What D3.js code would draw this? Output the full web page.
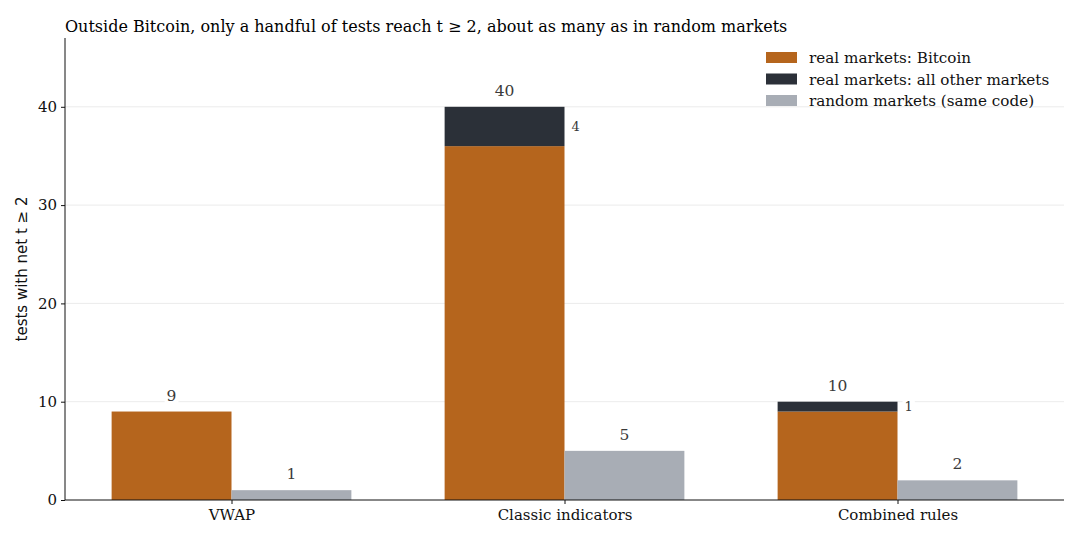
<!DOCTYPE html>
<html>
<head>
<meta charset="utf-8">
<script src="https://cdn.jsdelivr.net/npm/d3@7"></script>
<style>
body { margin: 0; background: #fff; }
text { font-family: "DejaVu Serif", serif; }
</style>
</head>
<body>
<script>
var categories = ["VWAP", "Classic indicators", "Combined rules"];
var bitcoin = [9, 36, 9];
var otherMarkets = [0, 4, 1];
var randomMarkets = [1, 5, 2];
var yTicks = [0, 10, 20, 30, 40];
var legendLabels = ["real markets: Bitcoin", "real markets: all other markets", "random markets (same code)"];

var w = 1080, h = 540;
var m = { left: 65, right: 16, top: 38, bottom: 40 };
var colors = ["#b5651d", "#2b3038", "#a8adb5"];

var svg = d3.select("body").append("svg")
    .attr("width", w)
    .attr("height", h);

// x: positions 0..2, limits -0.5..2.5 like a numeric bar axis
var x = d3.scaleLinear().domain([-0.5, 2.5]).range([m.left, w - m.right]);
var y = d3.scaleLinear().domain([0, 47]).range([h - m.bottom, m.top]);
var bw = 0.36;

// gridlines
svg.append("g").selectAll("line")
    .data(yTicks.slice(1))
    .enter().append("line")
    .attr("x1", m.left).attr("x2", w - m.right)
    .attr("y1", d => y(d)).attr("y2", d => y(d))
    .attr("stroke", "#e6e6e6").attr("stroke-width", 0.8);

var idx = d3.range(categories.length);

// bitcoin bars
svg.append("g").selectAll("rect")
    .data(idx).enter().append("rect")
    .attr("x", i => x(i - bw)).attr("width", i => x(i) - x(i - bw))
    .attr("y", i => y(bitcoin[i])).attr("height", i => y(0) - y(bitcoin[i]))
    .attr("fill", colors[0]);

// other markets stacked on top
svg.append("g").selectAll("rect")
    .data(idx).enter().append("rect")
    .attr("x", i => x(i - bw)).attr("width", i => x(i) - x(i - bw))
    .attr("y", i => y(bitcoin[i] + otherMarkets[i]))
    .attr("height", i => y(bitcoin[i]) - y(bitcoin[i] + otherMarkets[i]))
    .attr("fill", colors[1]);

// random markets
svg.append("g").selectAll("rect")
    .data(idx).enter().append("rect")
    .attr("x", i => x(i)).attr("width", i => x(i + bw) - x(i))
    .attr("y", i => y(randomMarkets[i])).attr("height", i => y(0) - y(randomMarkets[i]))
    .attr("fill", colors[2]);

// label with white box behind, like a bbox
var label = function(tx, ty, str, size, anchor) {
    var g = svg.append("g");
    var t = g.append("text")
        .attr("x", tx).attr("y", ty)
        .attr("text-anchor", anchor || "middle")
        .attr("dominant-baseline", "central")
        .attr("font-size", size)
        .attr("fill", "#3a3a3a")
        .text(str);
    var b = t.node().getBBox();
    g.insert("rect", "text")
        .attr("x", b.x - 2).attr("y", b.y)
        .attr("width", b.width + 4).attr("height", b.height)
        .attr("fill", "#fff");
};

idx.forEach(function(i) {
    var tot = bitcoin[i] + otherMarkets[i];
    label(x(i - bw / 2), y(tot) - 16, tot, 15.5);
    if (otherMarkets[i] > 0) {
        label(x(i) + 7, y(bitcoin[i] + otherMarkets[i] / 2), otherMarkets[i], 13, "start");
    }
    label(x(i + bw / 2), y(randomMarkets[i]) - 16, randomMarkets[i], 15.5);
});

// axes
var yAxis = svg.append("g")
    .attr("transform", "translate(" + m.left + ",0)")
    .call(d3.axisLeft(y).tickValues(yTicks).tickSize(4).tickPadding(4));
var xAxis = svg.append("g")
    .attr("transform", "translate(0," + y(0) + ")")
    .call(d3.axisBottom(x).tickValues(idx).tickFormat(i => categories[i]).tickSize(4).tickPadding(5));
[yAxis, xAxis].forEach(function(a) {
    a.selectAll("text").attr("font-family", "DejaVu Serif").attr("font-size", 15).attr("fill", "#111");
    a.selectAll("line").attr("stroke", "#111");
});
yAxis.select(".domain").attr("d", "M0," + y(0) + "V" + m.top).attr("stroke", "#111");
xAxis.select(".domain").attr("d", "M" + m.left + ",0H" + (w - m.right)).attr("stroke", "#111");

// y label
svg.append("text")
    .attr("transform", "translate(27," + ((m.top + y(0)) / 2) + ") rotate(-90)")
    .attr("text-anchor", "middle")
    .style("font-family", "DejaVu Sans")
    .attr("font-size", 15)
    .attr("fill", "#111")
    .text("tests with net t \u2265 2");

// title
svg.append("text")
    .attr("x", m.left).attr("y", 31.5)
    .attr("font-size", 16)
    .attr("fill", "#000")
    .text("Outside Bitcoin, only a handful of tests reach t \u2265 2, about as many as in random markets");

// legend
var leg = svg.append("g").attr("transform", "translate(766,52)");
legendLabels.forEach(function(s, k) {
    leg.append("rect").attr("x", 0).attr("y", k * 21.5).attr("width", 31).attr("height", 11).attr("fill", colors[k]);
    leg.append("text").attr("x", 43).attr("y", k * 21.5 + 6)
        .attr("dominant-baseline", "central")
        .attr("font-size", 15.2).attr("fill", "#111").text(s);
});
</script>
</body>
</html>
